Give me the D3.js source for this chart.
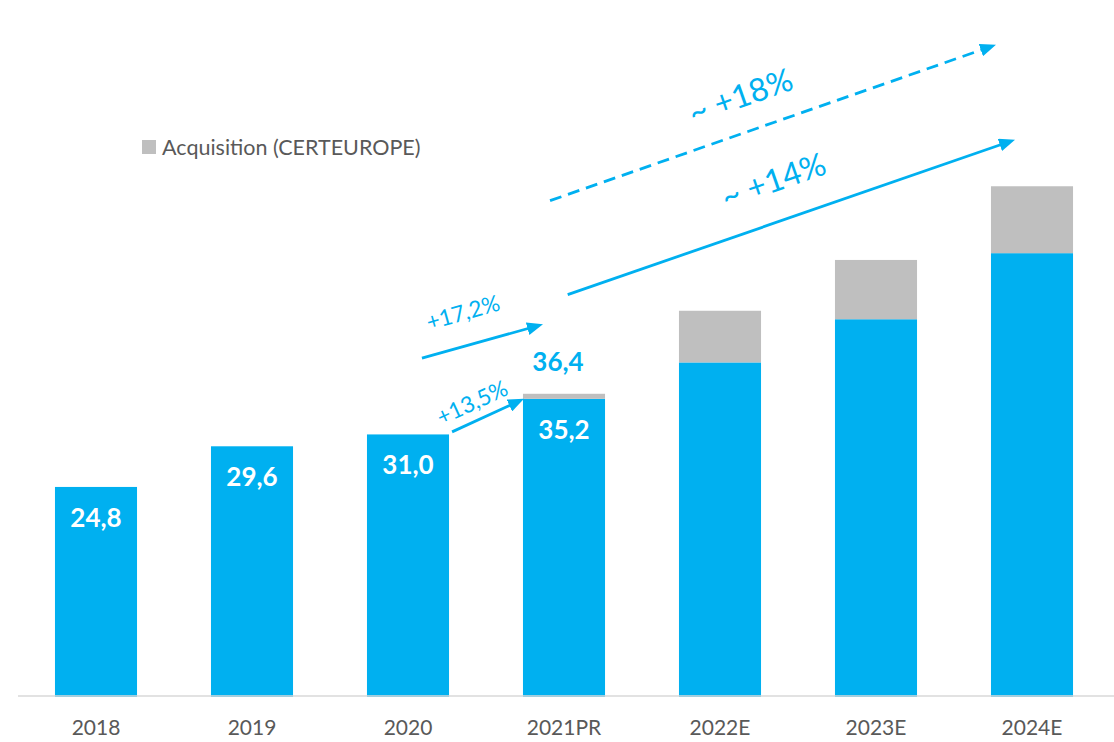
<!DOCTYPE html>
<html>
<head>
<meta charset="utf-8">
<script src="https://cdn.jsdelivr.net/npm/d3@7"></script>
<style>
  html, body { margin: 0; padding: 0; background: #fff; }
  svg { display: block; }
  text { font-family: Lato, "Open Sans", sans-serif; }
</style>
</head>
<body>
<svg id="chart" width="1114" height="742"></svg>
<script>
// ---- data ----
const categories = ["2018", "2019", "2020", "2021PR", "2022E", "2023E", "2024E"];
const organic = [24.8, 29.6, 31.0, 35.2, 39.5, 44.6, 52.4];
const acquisition = [0, 0, 0, 0.6, 6.1, 7.0, 7.9];
const organicLabels = ["24,8", "29,6", "31,0", "35,2", "", "", ""];
const totalLabels = ["", "", "", "36,4", "", "", ""];
const legendLabel = "Acquisition (CERTEUROPE)";
const growthLabels = ["+13,5%", "+17,2%", "~ +14%", "~ +18%"];

// ---- setup ----
const W = 1114, H = 742;
const BLUE = "#00b0f0", GREY = "#bfbfbf", TEXT = "#595959";
const svg = d3.select("#chart");

const x = d3.scaleBand().domain(categories).range([18, 1110]).paddingInner(0.474).paddingOuter(0.237);
const y = d3.scaleLinear().domain([0, 70]).range([697, 697 - 70 * 8.47]);
const bw = x.bandwidth();

const rows = categories.map((c, i) => ({
  cat: c, org: organic[i], acq: acquisition[i],
  orgLabel: organicLabels[i], totLabel: totalLabels[i]
}));
const stack = d3.stack().keys(["org", "acq"])(rows);
const colors = { org: BLUE, acq: GREY };

// bars
svg.append("g").selectAll("g").data(stack).join("g")
  .attr("fill", d => colors[d.key])
  .selectAll("rect").data(d => d).join("rect")
  .attr("x", d => x(d.data.cat))
  .attr("width", bw)
  .attr("y", d => y(d[1]))
  .attr("height", d => Math.max(0, y(d[0]) - y(d[1])));

// axis
const xAxis = d3.axisBottom(x).tickSize(0).tickPadding(0);
const gx = svg.append("g").attr("transform", `translate(0,${y(0) - 1})`).call(xAxis);
gx.select(".domain").attr("stroke", "#d9d9d9").attr("stroke-width", 1.5)
  .attr("d", `M18,0H${W}`);
gx.selectAll(".tick text")
  .attr("y", 0).attr("dy", 0)
  .attr("transform", "translate(0,39)")
  .attr("fill", TEXT)
  .style("font-size", "21px")
  .style("font-family", "Lato, sans-serif");

// value labels inside bars
svg.append("g").selectAll("text").data(rows.filter(r => r.orgLabel)).join("text")
  .attr("x", d => x(d.cat) + bw / 2)
  .attr("y", d => y(d.org) + 40)
  .attr("text-anchor", "middle")
  .attr("fill", "#fff")
  .style("font-weight", "700")
  .style("font-size", "26px")
  .text(d => d.orgLabel);

// total labels above bars
svg.append("g").selectAll("text").data(rows.filter(r => r.totLabel)).join("text")
  .attr("x", d => x(d.cat) + bw / 2 - 6)
  .attr("y", d => y(d.org + d.acq) - 23)
  .attr("text-anchor", "middle")
  .attr("fill", BLUE)
  .style("font-weight", "700")
  .style("font-size", "26px")
  .text(d => d.totLabel);

// legend
const lg = svg.append("g").attr("transform", "translate(142,140)");
lg.append("rect").attr("width", 14).attr("height", 14).attr("fill", GREY);
lg.append("text").attr("x", 20).attr("y", 15).attr("fill", TEXT)
  .style("font-size", "21.5px").text(legendLabel);

// growth arrows (annotations anchored on the scales)
const defs = svg.append("defs");
defs.append("marker").attr("id", "head")
  .attr("markerUnits", "userSpaceOnUse")
  .attr("viewBox", "0 0 16 13").attr("markerWidth", 16).attr("markerHeight", 13)
  .attr("refX", 16).attr("refY", 6.5).attr("orient", "auto")
  .append("path").attr("d", "M0,0L16,6.5L0,13Z").attr("fill", BLUE);

const px = (cat, f) => x(cat) + f * bw;
const arrows = [
  { label: growthLabels[0], x1: px("2020", 1.037), y1: y(31.3), x2: px("2021PR", 0.012), y2: y(35.2), dash: null, fs: 22.5, off: [-16, -13] },
  { label: growthLabels[1], x1: px("2020", 0.67), y1: y(40.0), x2: px("2021PR", 0.244), y2: y(44.0), dash: null, fs: 22.5, off: [-19.5, -29] },
  { label: growthLabels[2], x1: px("2021PR", 0.545), y1: y(47.5), x2: px("2024E", 0.293), y2: y(65.8), dash: null, fs: 32, off: [-18, -37] },
  { label: growthLabels[3], x1: px("2021PR", 0.33), y1: y(58.6), x2: px("2024E", 0.061), y2: y(77.0), dash: "12,7", fs: 32, off: [-32.5, -27] }
];

const ag = svg.append("g");
arrows.forEach(a => {
  const dx = a.x2 - a.x1, dy = a.y2 - a.y1;
  const len = Math.hypot(dx, dy);
  const ux = dx / len, uy = dy / len;
  ag.append("line")
    .attr("x1", a.x1).attr("y1", a.y1)
    .attr("x2", a.x2 - ux * 10).attr("y2", a.y2 - uy * 10)
    .attr("stroke", BLUE).attr("stroke-width", 2.8)
    .attr("stroke-dasharray", a.dash);
  ag.append("line")
    .attr("x1", a.x2 - ux * 11).attr("y1", a.y2 - uy * 11)
    .attr("x2", a.x2).attr("y2", a.y2)
    .attr("stroke", "none").attr("marker-end", "url(#head)");
  const ang = Math.atan2(dy, dx) * 180 / Math.PI;
  const cx = (a.x1 + a.x2) / 2 + a.off[0], cy = (a.y1 + a.y2) / 2 + a.off[1];
  ag.append("text")
    .attr("transform", `translate(${cx},${cy}) rotate(${ang})`)
    .attr("text-anchor", "middle").attr("dy", "0.36em")
    .attr("fill", BLUE).style("font-size", a.fs + "px")
    .text(a.label);
});
</script>
</body>
</html>
